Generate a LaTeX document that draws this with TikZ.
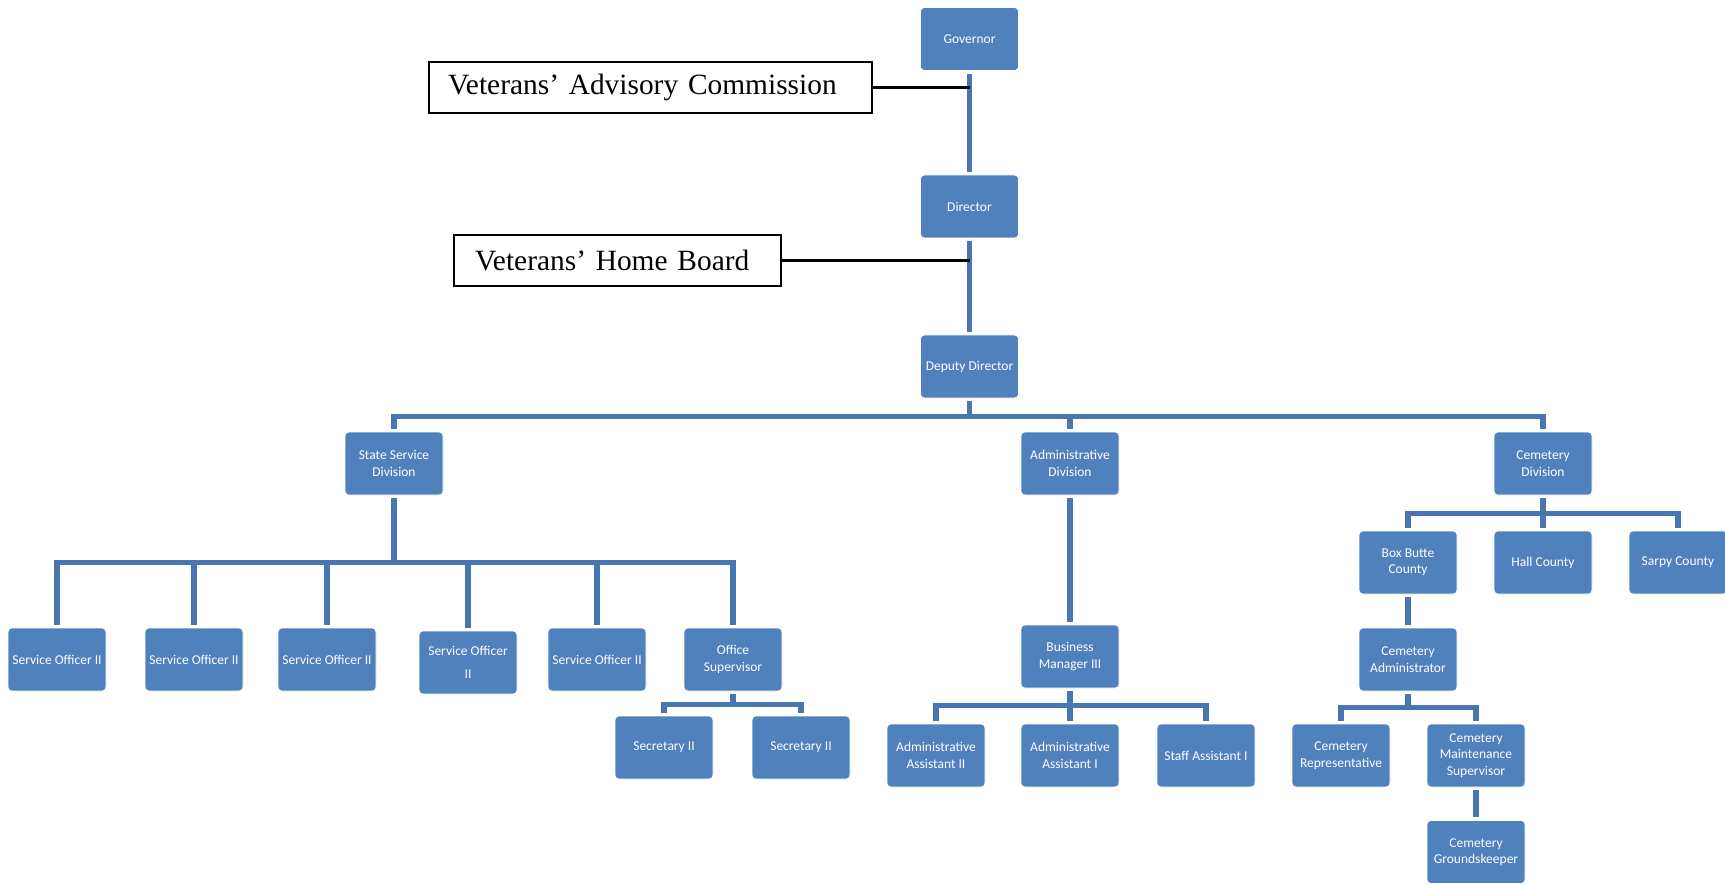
\documentclass[tikz,border=0pt]{standalone}
\usepackage{fontspec}
\setmainfont{Liberation Serif}
\newfontfamily\calibri{Carlito}
\definecolor{unitblue}{HTML}{4F81BD}
\definecolor{linkblue}{HTML}{4876B0}
\begin{document}
\begin{tikzpicture}[x=1pt, y=-1pt,
  unit/.style={fill=unitblue, draw=white, line width=0.6pt, rounded corners=4pt, minimum width=98pt, minimum height=63pt, inner sep=2pt, align=center, text=white, font=\calibri\fontsize{13.5}{16.5}\selectfont},
  board/.style={draw=black, line width=2.2pt, align=left, inner xsep=19pt, inner ysep=0pt, font=\fontsize{29.4}{34}\selectfont},
  link/.style={draw=linkblue, line width=5.5pt, shorten <=3pt, shorten >=3pt},
  tie/.style={draw=black, line width=2.2pt}]
\useasboundingbox (0,0) rectangle (1725,885);

% top of the chart
\node (gov) at (969.5,39) [unit] {Governor};
\node (dir) at (969.5,206.5) [unit] {Director};
\node (dep) at (969.5,366.5) [unit] {Deputy Director};
\node (vac) at (650.5,87.5) [board, text width=405pt, minimum height=51pt] {Veterans' Advisory Commission};
\node (vhb) at (617.5,260.5) [board, inner xsep=21pt, text width=285pt, minimum height=51pt] {Veterans' Home Board};

% divisions
\node (ssd) at (394,463.5) [unit] {State Service\\Division};
\node (adm) at (1070,463.5) [unit] {Administrative\\Division};
\node (cem) at (1543,463.5) [unit] {Cemetery\\Division};

% state service division
\node (so1) at (57,659.5) [unit] {Service Officer II};
\node (so2) at (194,659.5) [unit] {Service Officer II};
\node (so3) at (327,659.5) [unit] {Service Officer II};
\node (so4) at (468,662.5) [unit] {Service Officer\\[6pt]II};
\node (so5) at (597,659.5) [unit] {Service Officer II};
\node (osup) at (733,659.5) [unit] {Office\\Supervisor};
\node (sec1) at (664,747.5) [unit] {Secretary II};
\node (sec2) at (801,747.5) [unit] {Secretary II};

% administrative division
\node (bm) at (1070,656.5) [unit] {Business\\Manager III};
\node (aa2) at (936,755.5) [unit] {Administrative\\Assistant II};
\node (aa1) at (1070,755.5) [unit] {Administrative\\Assistant I};
\node (sa1) at (1206,755.5) [unit] {Staff Assistant I};

% cemetery division
\node (bbc) at (1408,562.5) [unit] {Box Butte\\County};
\node (hall) at (1543,562.5) [unit] {Hall County};
\node (sarpy) at (1678,562.5) [unit] {Sarpy County};
\node (cadm) at (1408,659.5) [unit] {Cemetery\\Administrator};
\node (crep) at (1341,755.5) [unit] {Cemetery\\Representative};
\node (cms) at (1476,755.5) [unit] {Cemetery\\Maintenance\\Supervisor};
\node (cgk) at (1476,852) [unit] {Cemetery\\Groundskeeper};

\draw[link] (gov.south) -- (dir.north);
\draw[link] (dir.south) -- (dep.north);
\draw[tie] (vac.east) -- (vac.east -| gov.south);
\draw[tie] (vhb.east) -- (vhb.east -| dir.south);

\draw[link] (dep.south) -- ++(0,18) -| (ssd.north);
\draw[link] (dep.south) -- ++(0,18) -| (adm.north);
\draw[link] (dep.south) -- ++(0,18) -| (cem.north);

\draw[link] (ssd.south) -- ++(0,67) -| (so1.north);
\draw[link] (ssd.south) -- ++(0,67) -| (so2.north);
\draw[link] (ssd.south) -- ++(0,67) -| (so3.north);
\draw[link] (ssd.south) -- ++(0,67) -| (so4.north);
\draw[link] (ssd.south) -- ++(0,67) -| (so5.north);
\draw[link] (ssd.south) -- ++(0,67) -| (osup.north);
\draw[link] (osup.south) -- ++(0,13) -| (sec1.north);
\draw[link] (osup.south) -- ++(0,13) -| (sec2.north);

\draw[link] (adm.south) -- (bm.north);
\draw[link] (bm.south) -- ++(0,17) -| (aa2.north);
\draw[link] (bm.south) -- ++(0,17) -| (aa1.north);
\draw[link] (bm.south) -- ++(0,17) -| (sa1.north);

\draw[link] (cem.south) -- ++(0,18) -| (bbc.north);
\draw[link] (cem.south) -- ++(0,18) -| (hall.north);
\draw[link] (cem.south) -- ++(0,18) -| (sarpy.north);
\draw[link] (bbc.south) -- (cadm.north);
\draw[link] (cadm.south) -- ++(0,16) -| (crep.north);
\draw[link] (cadm.south) -- ++(0,16) -| (cms.north);
\draw[link] (cms.south) -- (cgk.north);
\end{tikzpicture}
\end{document}
